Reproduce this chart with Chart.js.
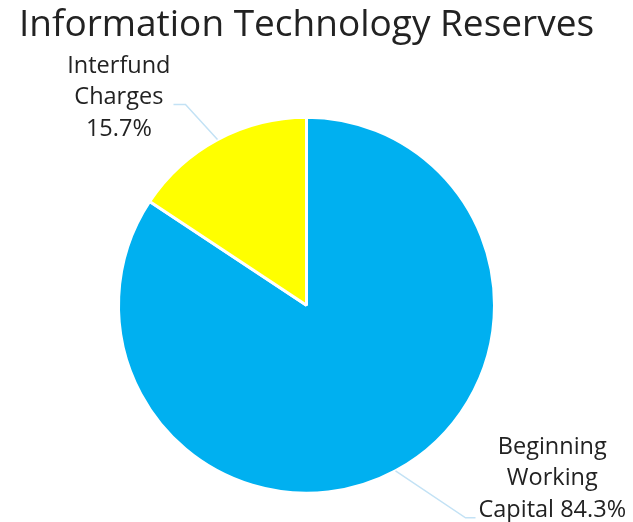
<!DOCTYPE html>
<html>
<head>
<meta charset="utf-8">
<script src="https://cdn.jsdelivr.net/npm/chart.js@4"></script>
<style>
  html, body { margin: 0; padding: 0; background: #fff; }
  #wrap { width: 633px; height: 522px; }
</style>
</head>
<body>
<div id="wrap"><canvas id="pie-chart"></canvas></div>
<script>
const chartTitle = 'Information Technology Reserves';
const categories = ['Beginning Working Capital', 'Interfund Charges'];
const shares = [84.3, 15.7];
const sliceColors = ['#00b0f0', '#ffff00'];
// how each label wraps; the percentage goes where {p} is
const labelLines = [
    ['Beginning', 'Working', 'Capital {p}'],
    ['Interfund', 'Charges', '{p}']
];
// connector elbow offset from the slice edge, and text block shift
const connectors = [
    { dx: 70, dy: 47, run: 10, textDy: -39 },
    { dx: -32, dy: -35, run: 12, textDy: -7 }
];

const labelFont = '23.5px "Open Sans"';
const lineGap = 31.5;

const sliceLabels = {
    id: 'sliceLabels',
    afterDatasetsDraw(chart) {
        const ctx = chart.ctx;
        const meta = chart.getDatasetMeta(0);
        meta.data.forEach((arc, i) => {
            const p = arc.getProps(['x', 'y', 'startAngle', 'endAngle', 'outerRadius'], true);
            const mid = (p.startAngle + p.endAngle) / 2;
            const ex = p.x + Math.cos(mid) * p.outerRadius;
            const ey = p.y + Math.sin(mid) * p.outerRadius;
            const c = connectors[i];
            const side = c.dx >= 0 ? 1 : -1;
            const bx = ex + c.dx, by = ey + c.dy;
            const fx = bx + side * c.run;

            ctx.save();
            ctx.strokeStyle = '#c3e2f5';
            ctx.lineWidth = 1.5;
            ctx.beginPath();
            ctx.moveTo(ex, ey);
            ctx.lineTo(bx, by);
            ctx.lineTo(fx, by);
            ctx.stroke();

            const lines = labelLines[i].map(s => s.replace('{p}', shares[i].toFixed(1) + '%'));
            ctx.font = labelFont;
            ctx.fillStyle = '#222';
            ctx.textAlign = 'center';
            ctx.textBaseline = 'middle';
            const maxW = Math.max(...lines.map(s => ctx.measureText(s).width));
            const cx = fx + side * (3 + maxW / 2);
            const top = by + c.textDy - (lines.length - 1) * lineGap / 2;
            lines.forEach((s, k) => ctx.fillText(s, cx, top + k * lineGap));
            ctx.restore();
        });
    }
};

const ctx1 = document.getElementById('pie-chart');

const pieChart = new Chart(ctx1, {
    type: 'pie',
    data: {
        labels: categories,
        datasets: [{
            data: shares,
            backgroundColor: sliceColors,
            borderColor: '#ffffff',
            borderWidth: 3,
            radius: 188
        }]
    },
    options: {
        responsive: true,
        maintainAspectRatio: false,
        animation: false,
        layout: {
            padding: { left: 0, right: 20, top: 0, bottom: 0 }
        },
        plugins: {
            legend: { display: false },
            tooltip: { enabled: false },
            title: {
                display: true,
                text: chartTitle,
                color: '#222',
                font: { family: '"Open Sans"', size: 37, weight: 'normal', lineHeight: 1.2 },
                padding: { top: 3, bottom: 41 }
            }
        }
    },
    plugins: [sliceLabels]
});
</script>
</body>
</html>
